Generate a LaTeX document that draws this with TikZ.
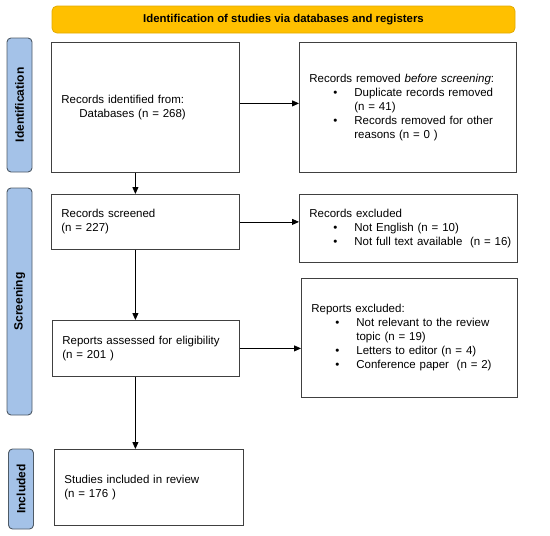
\documentclass[tikz,border=0pt]{standalone}
\usepackage{fontspec}
\setmainfont{Liberation Sans}
\usetikzlibrary{arrows.meta,positioning}
\definecolor{headyellow}{HTML}{FFC000}
\definecolor{headedge}{HTML}{E2AA00}
\definecolor{sideblue}{HTML}{A4C2E8}
\definecolor{sideedge}{HTML}{4E5A66}
\newcommand{\bodyfont}{\fontsize{11.5}{14}\selectfont}
\newcommand{\bul}[1]{\hspace*{24pt}\makebox[21pt][l]{\textbullet}\mbox{#1}}
\newcommand{\ind}[1]{\hspace*{45pt}\mbox{#1}}
\begin{document}
\begin{tikzpicture}[
        x=1pt, y=-1pt,
        % box styles
        header/.style={rectangle, rounded corners=5pt, minimum width=463pt, minimum height=27pt, text centered, draw=headedge, fill=headyellow, line width=0.8pt, font=\fontsize{11.4}{14}\selectfont\bfseries},
        phase/.style={rectangle, rounded corners=4pt, rotate=90, minimum height=25pt, text centered, draw=sideedge, fill=sideblue, line width=0.9pt, font=\fontsize{12}{14}\selectfont\bfseries},
        box/.style={rectangle, anchor=north west, align=left, inner xsep=10pt, inner ysep=3pt, draw=black!75, fill=white, line width=0.8pt, font=\bodyfont},
        arrow/.style={line width=0.8pt, ->, >={Triangle[length=7pt,width=6pt]}}
    ]
        \useasboundingbox (0,0) rectangle (550,536);

        % header and phase labels
        \node (head) [header] at (283.5,19.5) {Identification of studies via databases and registers};
        \node (pid) [phase, minimum width=134pt] at (19.5,105) {Identification};
        \node (pscr) [phase, minimum width=227pt] at (19.5,301.5) {Screening};
        \node (pinc) [phase, minimum width=80pt] at (21,489) {Included};

        % left column
        \node (rid) [box, text width=168pt, minimum height=130pt] at (51,42) {Records identified from:\\\hspace*{18pt}Databases (n = 268)};
        \node (scr) [box, text width=168pt, minimum height=55pt] at (51,194) {Records screened\\(n = 227)};
        \node (ass) [box, text width=167pt, minimum height=56pt] at (52,320) {Reports assessed for eligibility\\(n = 201 )};
        \node (inc) [box, text width=169pt, minimum height=76pt] at (54,449) {Studies included in review\\(n = 176 )};

        % right column
        \node (rem) [box, text width=197pt, minimum height=130pt] at (299,42) {Records removed \textit{before screening}:\\\bul{Duplicate records removed}\\\ind{(n = 41)}\\\bul{Records removed for other}\\\ind{reasons (n = 0 )}};
        \node (exc) [box, text width=198pt, minimum height=68pt] at (299,194) {Records excluded\\\bul{Not English (n = 10)}\\\bul{Not full text available\ \ (n = 16)}};
        \node (rex) [box, text width=196pt, minimum height=119pt] at (301,278) {Reports excluded:\\\bul{Not relevant to the review}\\\ind{topic (n = 19)}\\\bul{Letters to editor (n = 4)}\\\bul{Conference paper\ \ (n = 2)}};

        % connections
        \draw[arrow] ([yshift=4pt]rid.east) -- ([yshift=4pt]rid.east -| rem.west);
        \draw[arrow] (scr.east) -- (scr.east -| exc.west);
        \draw[arrow] (ass.east) -- (ass.east -| rex.west);
        \draw[arrow] ([xshift=-10pt]rid.south) -- ([xshift=-10pt]rid.south |- scr.north);
        \draw[arrow] ([xshift=-10pt]scr.south) -- ([xshift=-10pt]scr.south |- ass.north);
        \draw[arrow] ([xshift=-10pt]scr.south |- ass.south) -- ([xshift=-10pt]scr.south |- inc.north);

    \end{tikzpicture}
\end{document}
